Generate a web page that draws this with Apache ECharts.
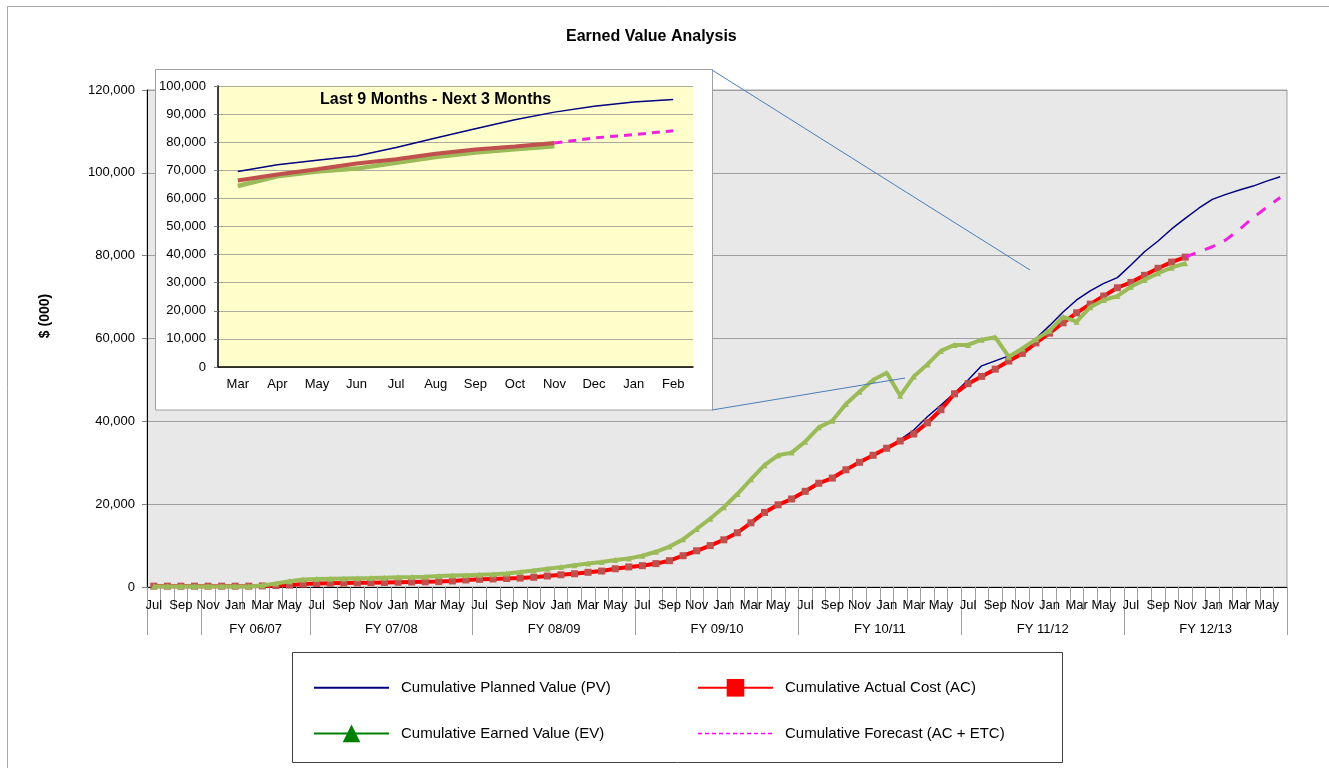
<!DOCTYPE html>
<html>
<head>
<meta charset="utf-8">
<title>Earned Value Analysis</title>
<script src="https://cdn.jsdelivr.net/npm/echarts@6/dist/echarts.min.js"></script>
<style>
  html, body { margin: 0; padding: 0; background: #fff; }
  #chart { width: 1329px; height: 768px; }
</style>
</head>
<body>
<div id="chart"></div>
<script>
// Jul 2006 .. Jun 2013
const months = [
  'Jul','Aug','Sep','Oct','Nov','Dec','Jan','Feb','Mar','Apr','May','Jun',
  'Jul','Aug','Sep','Oct','Nov','Dec','Jan','Feb','Mar','Apr','May','Jun',
  'Jul','Aug','Sep','Oct','Nov','Dec','Jan','Feb','Mar','Apr','May','Jun',
  'Jul','Aug','Sep','Oct','Nov','Dec','Jan','Feb','Mar','Apr','May','Jun',
  'Jul','Aug','Sep','Oct','Nov','Dec','Jan','Feb','Mar','Apr','May','Jun',
  'Jul','Aug','Sep','Oct','Nov','Dec','Jan','Feb','Mar','Apr','May','Jun',
  'Jul','Aug','Sep','Oct','Nov','Dec','Jan','Feb','Mar','Apr','May','Jun'
]
const fyNames = ['', 'FY 06/07', 'FY 07/08', 'FY 08/09', 'FY 09/10', 'FY 10/11', 'FY 11/12', 'FY 12/13']
const fyStart = [0, 4, 12, 24, 36, 48, 60, 72, 84]

const plannedValue = [
  200, 200, 200, 200, 200, 200, 200, 200, 250, 350, 450, 700,
  850, 900, 950, 1000, 1050, 1100, 1150, 1200, 1250, 1300, 1450, 1700,
  1850, 1950, 2050, 2150, 2350, 2650, 2950, 3200, 3550, 3850, 4400, 4850,
  5150, 5650, 6350, 7550, 8750, 10000, 11400, 13100, 15500, 18000, 19850, 21250,
  23100, 25050, 26300, 28300, 30100, 31800, 33600, 35600, 37900, 41100, 43900, 46800,
  50000, 53400, 54600, 55800, 57600, 60000, 63100, 66400, 69300, 71500, 73300, 74700,
  77750, 80950, 83550, 86450, 89000, 91450, 93600, 94800, 95850, 96800, 98000, 99050
]
const actualCost = [
  200, 200, 200, 200, 200, 200, 200, 200, 250, 350, 450, 700,
  850, 900, 950, 1000, 1050, 1100, 1150, 1200, 1250, 1300, 1450, 1700,
  1850, 1950, 2050, 2150, 2350, 2650, 2950, 3200, 3550, 3850, 4400, 4850,
  5150, 5650, 6350, 7550, 8750, 10000, 11400, 13100, 15500, 18000, 19850, 21250,
  23100, 25050, 26300, 28300, 30100, 31800, 33500, 35250, 36950, 39650, 42800, 46650,
  49100, 50850, 52600, 54550, 56400, 58950, 61300, 63800, 66200, 68300, 70250, 72250,
  73550, 75250, 76950, 78450, 79650, null, null, null, null, null, null, null
]
const earnedValue = [
  100, 100, 100, 100, 100, 100, 100, 150, 350, 850, 1400, 1800,
  1950, 2000, 2050, 2100, 2150, 2250, 2350, 2400, 2500, 2650, 2750, 2850,
  2950, 3050, 3250, 3600, 4000, 4400, 4800, 5250, 5650, 6050, 6500, 6900,
  7550, 8500, 9750, 11500, 14000, 16500, 19250, 22450, 26000, 29400, 31800, 32450,
  35100, 38550, 40150, 44200, 47150, 50000, 51750, 46200, 50800, 53750, 57000, 58450,
  58450, 59700, 60300, 55600, 57600, 59800, 61900, 65250, 64050, 67550, 69300, 70250,
  72500, 74150, 75750, 77100, 78150, null, null, null, null, null, null, null
]
const forecast = [
  null, null, null, null, null, null, null, null, null, null, null, null,
  null, null, null, null, null, null, null, null, null, null, null, null,
  null, null, null, null, null, null, null, null, null, null, null, null,
  null, null, null, null, null, null, null, null, null, null, null, null,
  null, null, null, null, null, null, null, null, null, null, null, null,
  null, null, null, null, null, null, null, null, null, null, null, null,
  null, null, null, null, 79650, 80900, 82150, 83800, 86350, 89150, 91650, 94050
]

// inset: last 9 months + next 3
const insetMonths = ['Mar', 'Apr', 'May', 'Jun', 'Jul', 'Aug', 'Sep', 'Oct', 'Nov', 'Dec', 'Jan', 'Feb']
const insetPV = [69600, 72000, 73600, 75100, 78100, 81500, 84800, 88000, 90700, 92800, 94300, 95200]
const insetAC = [66400, 68500, 70400, 72400, 73900, 75900, 77400, 78500, 79700, null, null, null]
const insetEV = [64400, 67900, 69600, 70600, 72700, 74700, 76300, 77500, 78600, null, null, null]
const insetForecast = [null, null, null, null, null, null, null, null, 79700, 81500, 82700, 84100]

const NAMES = {
  pv: 'Cumulative Planned Value (PV)',
  ac: 'Cumulative Actual Cost (AC)',
  ev: 'Cumulative Earned Value (EV)',
  fc: 'Cumulative Forecast (AC + ETC)'
}
const FONT = 'Liberation Sans, Arial, sans-serif'
const GRID_LINE = '#A0A0A0'

// half-month steps for the fiscal year row (boundaries and centres fall on whole steps)
const halfSteps = []
for (let k = 0; k <= months.length * 2; k++) halfSteps.push(String(k))
const fyBoundary = new Set(fyStart.map(m => m * 2))
const fyCentre = {}
for (let g = 0; g < fyNames.length; g++) {
  if (fyNames[g]) fyCentre[fyStart[g] + fyStart[g + 1]] = fyNames[g]
}

const fmt = v => v.toLocaleString('en-US')

const chart = echarts.init(document.getElementById('chart'), null, { renderer: 'canvas' })

const option = {
  animation: false,
  backgroundColor: '#ffffff',
  textStyle: { fontFamily: FONT, color: '#000' },
  title: [
    {
      text: 'Earned Value Analysis',
      left: 566, top: 29, padding: 0,
      textStyle: { fontSize: 16, fontWeight: 'bold', color: '#000', fontFamily: FONT }
    },
    {
      text: 'Last 9 Months - Next 3 Months',
      left: 320, top: 92, padding: 0, z: 30,
      textStyle: { fontSize: 16, fontWeight: 'bold', color: '#000', fontFamily: FONT }
    }
  ],
  grid: [
    {
      left: 147, top: 90, right: 42, bottom: 181,
      show: true, backgroundColor: '#E8E8E8', borderColor: GRID_LINE, borderWidth: 1,
      outerBoundsMode: 'none', containLabel: false
    },
    {
      left: 218, top: 86, width: 475, height: 281, z: 20,
      show: true, backgroundColor: '#FFFFCC', borderWidth: 0,
      outerBoundsMode: 'none', containLabel: false
    }
  ],
  xAxis: [
    {
      type: 'category', gridIndex: 0, data: months, boundaryGap: true,
      axisLine: { show: true, lineStyle: { color: '#000', width: 1 } },
      axisTick: { show: true, interval: 0, length: 23, lineStyle: { color: GRID_LINE } },
      axisLabel: { interval: 1, margin: 12, fontSize: 13, color: '#000', fontFamily: FONT },
      splitLine: { show: false }
    },
    {
      type: 'category', gridIndex: 0, data: halfSteps, boundaryGap: false, position: 'bottom',
      axisLine: { show: false },
      axisTick: {
        show: true, length: 48, lineStyle: { color: GRID_LINE },
        interval: (idx) => fyBoundary.has(idx)
      },
      axisLabel: {
        margin: 36, fontSize: 13, color: '#000', fontFamily: FONT,
        interval: (idx) => fyCentre[idx] !== undefined,
        formatter: (val, idx) => fyCentre[idx] || ''
      },
      splitLine: { show: false }
    },
    {
      type: 'category', gridIndex: 1, data: insetMonths, boundaryGap: true, z: 21,
      axisLine: { show: true, lineStyle: { color: '#000', width: 1.5 } },
      axisTick: { show: false },
      axisLabel: { interval: 0, margin: 11, fontSize: 13, color: '#000', fontFamily: FONT },
      splitLine: { show: false }
    }
  ],
  yAxis: [
    {
      type: 'value', gridIndex: 0, min: 0, max: 120000, interval: 20000,
      axisLine: { show: true, lineStyle: { color: '#000', width: 1 } },
      axisTick: { show: true, inside: false, length: 5, lineStyle: { color: '#808080' } },
      axisLabel: { margin: 12, fontSize: 13, color: '#000', fontFamily: FONT, formatter: fmt },
      splitLine: { show: true, lineStyle: { color: GRID_LINE, width: 1 } }
    },
    {
      type: 'value', gridIndex: 1, min: 0, max: 100000, interval: 10000, z: 21,
      axisLine: { show: true, lineStyle: { color: '#000', width: 1.5 } },
      axisTick: { show: true, inside: false, length: 4, lineStyle: { color: '#808080' } },
      axisLabel: { margin: 12, fontSize: 13, color: '#000', fontFamily: FONT, formatter: fmt },
      splitLine: { show: true, lineStyle: { color: '#ABAB9E', width: 1 } }
    }
  ],
  legend: [
    {
      left: 313, top: 679, orient: 'vertical', padding: 0,
      itemWidth: 75, itemHeight: 22, itemGap: 28,
      textStyle: { fontSize: 15, color: '#000', fontFamily: FONT, padding: [0, 0, 0, 7] },
      selectedMode: false,
      data: [
        { name: NAMES.pv, itemStyle: { opacity: 0 }, lineStyle: { color: '#000080', width: 2 } },
        { name: NAMES.ev, itemStyle: { color: '#008000' }, lineStyle: { color: '#008000', width: 2 } }
      ]
    },
    {
      left: 697, top: 679, orient: 'vertical', padding: 0,
      itemWidth: 75, itemHeight: 22, itemGap: 28,
      textStyle: { fontSize: 15, color: '#000', fontFamily: FONT, padding: [0, 0, 0, 7] },
      selectedMode: false,
      data: [
        { name: NAMES.ac, itemStyle: { color: '#FF0000' }, lineStyle: { color: '#FF0000', width: 2 } },
        { name: NAMES.fc, itemStyle: { opacity: 0 }, lineStyle: { color: '#FF00FF', width: 1.5, type: [4, 3] } }
      ]
    }
  ],
  graphic: [
    // chart area border (only top/left fall inside the picture)
    { type: 'rect', z: 0, silent: true, shape: { x: 7.5, y: 6.5, width: 1400, height: 800 }, style: { fill: 'none', stroke: '#A6A6A6', lineWidth: 1 } },
    // inset frame
    { type: 'rect', z: 10, silent: true, shape: { x: 155.5, y: 69.5, width: 557, height: 340.5 }, style: { fill: '#ffffff', stroke: '#A0A0A0', lineWidth: 1 } },
    // callout lines
    { type: 'line', z: 10, silent: true, shape: { x1: 712, y1: 70, x2: 1030, y2: 270 }, style: { stroke: '#4A7EBB', lineWidth: 1 } },
    { type: 'line', z: 10, silent: true, shape: { x1: 712, y1: 410, x2: 905, y2: 378 }, style: { stroke: '#4A7EBB', lineWidth: 1 } },
    // legend frame
    { type: 'rect', z: 1, silent: true, shape: { x: 292.5, y: 652.5, width: 770, height: 110 }, style: { fill: '#ffffff', stroke: '#404040', lineWidth: 1 } },
    // y axis name
    {
      type: 'text', z: 5, silent: true, x: 45, y: 316, rotation: Math.PI / 2,
      style: { text: '$ (000)', font: 'bold 14px ' + FONT, fill: '#000', align: 'center', verticalAlign: 'middle' }
    }
  ],
  series: [
    {
      name: NAMES.pv, type: 'line', xAxisIndex: 0, yAxisIndex: 0,
      data: plannedValue, symbol: 'none', z: 2,
      lineStyle: { color: '#000080', width: 1.5 }, itemStyle: { color: '#000080' }
    },
    {
      name: NAMES.ac, type: 'line', xAxisIndex: 0, yAxisIndex: 0,
      data: actualCost, symbol: 'rect', symbolSize: 7, showSymbol: true, z: 3,
      lineStyle: { color: '#FF0000', width: 4 }, itemStyle: { color: '#C0504D' }
    },
    {
      name: NAMES.ev, type: 'line', xAxisIndex: 0, yAxisIndex: 0,
      data: earnedValue, symbol: 'triangle', symbolSize: 6, showSymbol: true, z: 4,
      lineStyle: { color: '#9BBB59', width: 4 }, itemStyle: { color: '#9BBB59' }
    },
    {
      name: NAMES.fc, type: 'line', xAxisIndex: 0, yAxisIndex: 0,
      data: forecast, symbol: 'none', z: 5,
      lineStyle: { color: '#F020E0', width: 3, type: [11, 10] }, itemStyle: { color: '#F020E0' }
    },
    // inset
    {
      name: 'inset PV', type: 'line', xAxisIndex: 2, yAxisIndex: 1, z: 22,
      data: insetPV, symbol: 'none',
      lineStyle: { color: '#000080', width: 1.5 }
    },
    {
      name: 'inset AC', type: 'line', xAxisIndex: 2, yAxisIndex: 1, z: 23,
      data: insetAC, symbol: 'none',
      lineStyle: { color: '#C0504D', width: 4 }
    },
    {
      name: 'inset EV', type: 'line', xAxisIndex: 2, yAxisIndex: 1, z: 22,
      data: insetEV, symbol: 'none',
      lineStyle: { color: '#9BBB59', width: 4.5 }
    },
    {
      name: 'inset forecast', type: 'line', xAxisIndex: 2, yAxisIndex: 1, z: 24,
      data: insetForecast, symbol: 'none',
      lineStyle: { color: '#F020E0', width: 3, type: [8, 6] }
    }
  ]
}

chart.setOption(option)
window.addEventListener('resize', () => chart.resize())
</script>
</body>
</html>
